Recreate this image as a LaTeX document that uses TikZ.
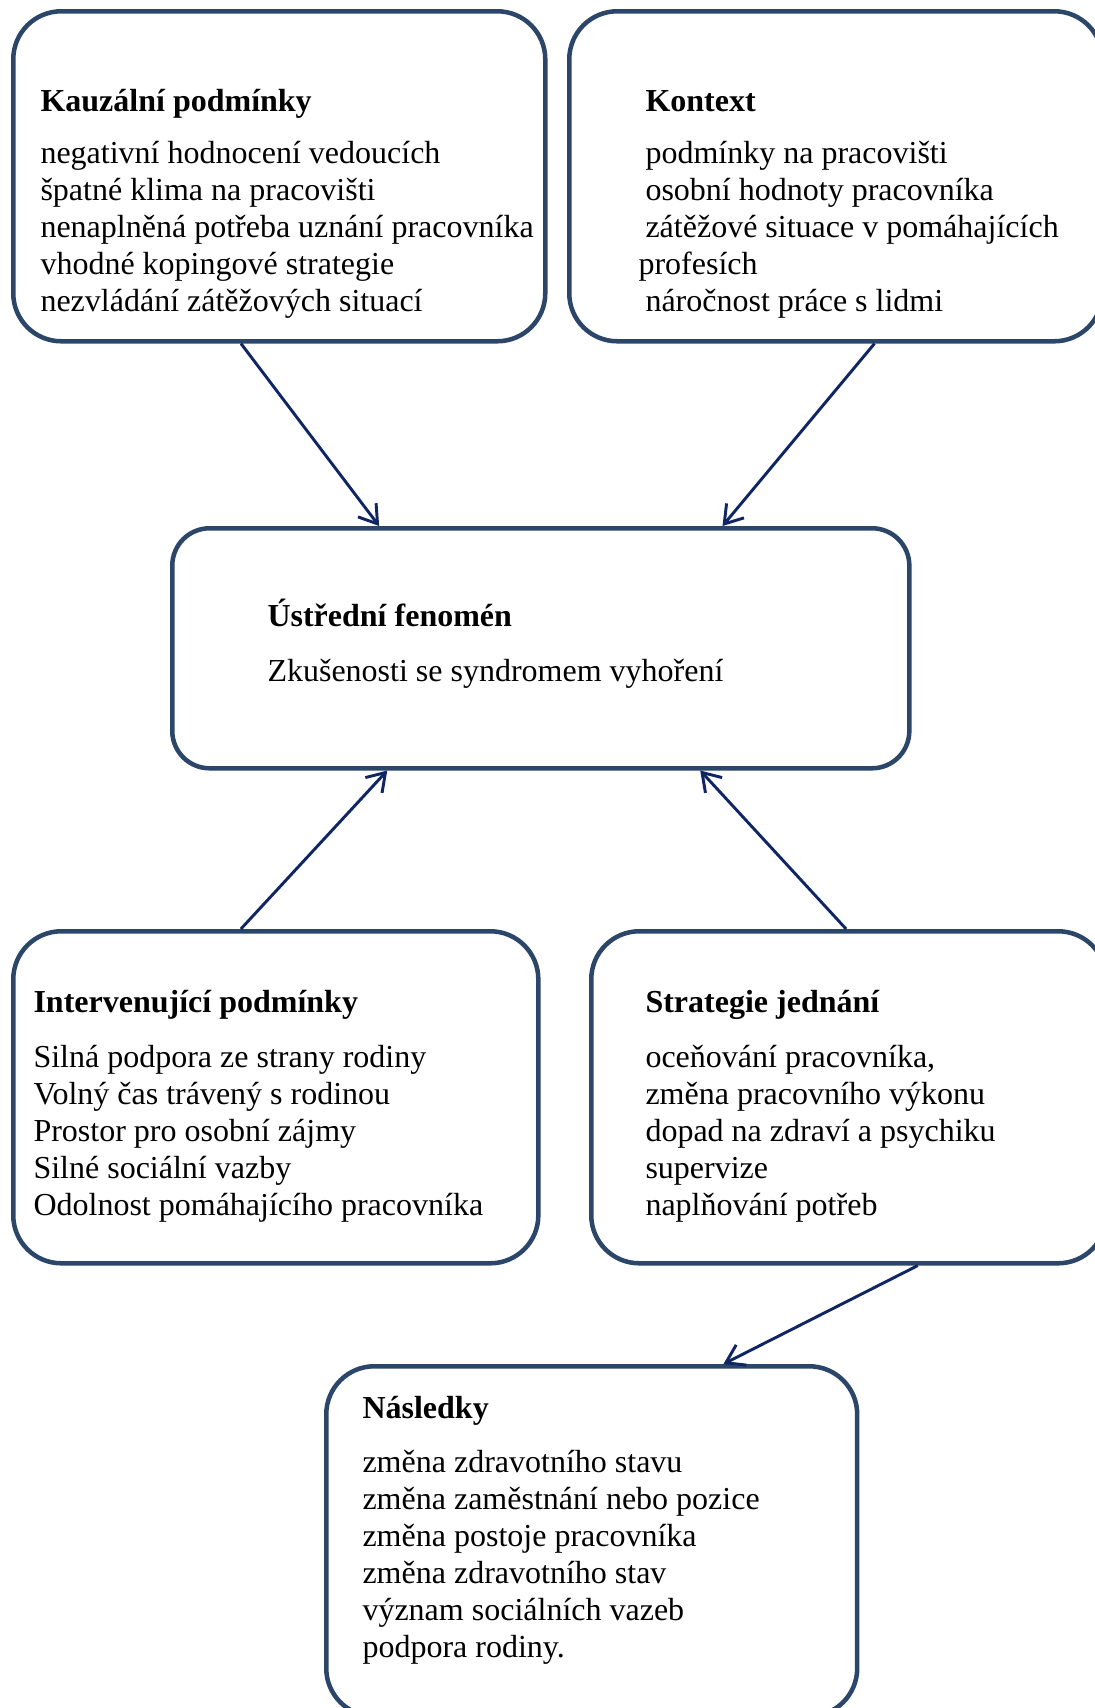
\documentclass[tikz,border=0pt]{standalone}
\usepackage{fontspec}
\setmainfont{Liberation Serif}
\usetikzlibrary{arrows.meta,calc}
\definecolor{boxc}{RGB}{44,70,106}
\definecolor{arrc}{RGB}{16,37,99}
\begin{document}
\begin{tikzpicture}[x=0.375pt,y=-0.375pt,
  box/.style={draw=boxc,line width=1.7pt,rounded corners=18pt,inner sep=0pt,anchor=north west,rectangle},
  ttl/.style={anchor=base west,inner sep=0pt,font=\bfseries\fontsize{12}{14}\selectfont},
  txt/.style={anchor=base west,inner sep=0pt,font=\fontsize{12}{14}\selectfont},
  arr/.style={draw=arrc,line width=1.1pt,-{Straight Barb[length=6.5pt,width=8.5pt]}}]
\fill[white] (0,0) rectangle (1094,1708);
\useasboundingbox (0,0) rectangle (1094,1708);

% boxes
\node[box,minimum width=199.5pt,minimum height=123.75pt] (kau) at (11,9) {};
\node[box,minimum width=199.9pt,minimum height=123.75pt] (kon) at (567,9) {};
\node[box,rounded corners=14pt,minimum width=276.4pt,minimum height=90pt] (cen) at (170,526) {};
\node[box,minimum width=196.9pt,minimum height=124.5pt] (int) at (11,929) {};
\node[box,minimum width=193.1pt,minimum height=124.5pt] (str) at (589,929) {};
\node[box,minimum width=199.1pt,minimum height=131.25pt] (nas) at (324,1364) {};

% Kauzalni podminky
\node[ttl] (kauT) at (40,111) {Kauzální podmínky};
\foreach \t [count=\i] in {negativní hodnocení vedoucích, špatné klima na pracovišti, nenaplněná potřeba uznání pracovníka, vhodné kopingové strategie, nezvládání zátěžových situací}
  \node[txt] (kauL\i) at (40,{163+37*(\i-1)}) {\t};

% Kontext
\node[ttl] (konT) at (645,111) {Kontext};
\node[txt] (konL1) at (645,163) {podmínky na pracovišti};
\node[txt] (konL2) at (645,200) {osobní hodnoty pracovníka};
\node[txt] (konL3) at (645,237) {zátěžové situace v pomáhajících};
\node[txt] (konL4) at (638,274) {profesích};
\node[txt] (konL5) at (645,311) {náročnost práce s lidmi};

% Ustredni fenomen
\node[ttl] (cenT) at (267,626) {Ústřední fenomén};
\node[txt] (cenL1) at (267,681) {Zkušenosti se syndromem vyhoření};

% Intervenujici podminky
\node[ttl] (intT) at (33,1012) {Intervenující podmínky};
\foreach \t [count=\i] in {Silná podpora ze strany rodiny, Volný čas trávený s rodinou, Prostor pro osobní zájmy, Silné sociální vazby, Odolnost pomáhajícího pracovníka}
  \node[txt] (intL\i) at (33,{1067+37*(\i-1)}) {\t};

% Strategie jednani
\node[ttl] (strT) at (645,1012) {Strategie jednání};
\foreach \t [count=\i] in {{oceňování pracovníka,}, změna pracovního výkonu, dopad na zdraví a psychiku, supervize, naplňování potřeb}
  \node[txt] (strL\i) at (645,{1067+37*(\i-1)}) {\t};

% Nasledky
\node[ttl] (nasT) at (362,1418) {Následky};
\foreach \t [count=\i] in {změna zdravotního stavu, změna zaměstnání nebo pozice, změna postoje pracovníka, změna zdravotního stav, význam sociálních vazeb, podpora rodiny.}
  \node[txt] (nasL\i) at (362,{1472+37*(\i-1)}) {\t};

% arrows
\draw[arr] ($(kau.south west)!0.4286!(kau.south east)$) -- ($(cen.north west)!0.282!(cen.north east)$);
\draw[arr] ($(kon.south west)!0.572!(kon.south east)$) -- ($(cen.north west)!0.745!(cen.north east)$);
\draw[arr] ($(int.north west)!0.434!(int.north east)$) -- ($(cen.south west)!0.293!(cen.south east)$);
\draw[arr] ($(str.north west)!0.495!(str.north east)$) -- ($(cen.south west)!0.715!(cen.south east)$);
\draw[arr] ($(str.south west)!0.633!(str.south east)$) -- ($(nas.north west)!0.746!(nas.north east)$);
\end{tikzpicture}
\end{document}
